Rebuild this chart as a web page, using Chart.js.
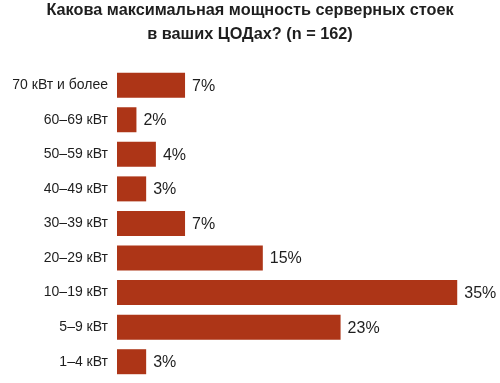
<!DOCTYPE html>
<html>
<head>
<meta charset="utf-8">
<script src="https://cdn.jsdelivr.net/npm/chart.js@4"></script>
<style>
  body { margin: 0; background: #fff; }
  canvas { display: block; }
</style>
</head>
<body>
<canvas id="chart" width="500" height="383"></canvas>
<script>
// data
const categories = ["70 кВт и более", "60–69 кВт", "50–59 кВт", "40–49 кВт", "30–39 кВт", "20–29 кВт", "10–19 кВт", "5–9 кВт", "1–4 кВт"];
const shares = [7, 2, 4, 3, 7, 15, 35, 23, 3];
const titleLines = ["Какова максимальная мощность серверных стоек", "в ваших ЦОДах? (n = 162)"];

const FONT = "'Liberation Sans', Arial, sans-serif";
const TEXT = "#1e1e1e";

// draws "7%" etc. after each bar
const valueLabels = {
    id: "valueLabels",
    afterDatasetsDraw(chart) {
        const ctx = chart.ctx;
        const meta = chart.getDatasetMeta(0);
        ctx.save();
        ctx.font = "16px " + FONT;
        ctx.fillStyle = TEXT;
        ctx.textAlign = "left";
        ctx.textBaseline = "middle";
        meta.data.forEach(function (bar, i) {
            ctx.fillText(shares[i] + "%", bar.x + 7, bar.y + 1);
        });
        ctx.restore();
    }
};

new Chart(document.getElementById("chart"), {
    type: "bar",
    data: {
        labels: categories,
        datasets: [{
            data: shares,
            backgroundColor: "#ad3517",
            borderWidth: 0,
            categoryPercentage: 1,
            barPercentage: 0.723
        }]
    },
    options: {
        indexAxis: "y",
        responsive: false,
        animation: false,
        layout: { padding: { left: 0, right: 0, top: 0, bottom: 4 } },
        plugins: {
            legend: { display: false },
            tooltip: { enabled: false },
            title: {
                display: true,
                text: titleLines,
                color: TEXT,
                font: { family: FONT, size: 16.3, weight: "bold", lineHeight: 1.5 },
                padding: { top: -2, bottom: 21 }
            }
        },
        scales: {
            x: {
                display: false,
                min: 0,
                max: 39.4
            },
            y: {
                grid: { display: false, drawTicks: false },
                border: { display: false },
                ticks: {
                    color: TEXT,
                    padding: 9,
                    font: { family: FONT, size: 14 }
                },
                afterFit: function (scale) {
                    scale.width = 117;
                    scale.paddingTop = 0;
                    scale.paddingBottom = 0;
                }
            }
        }
    },
    plugins: [valueLabels]
});
</script>
</body>
</html>
